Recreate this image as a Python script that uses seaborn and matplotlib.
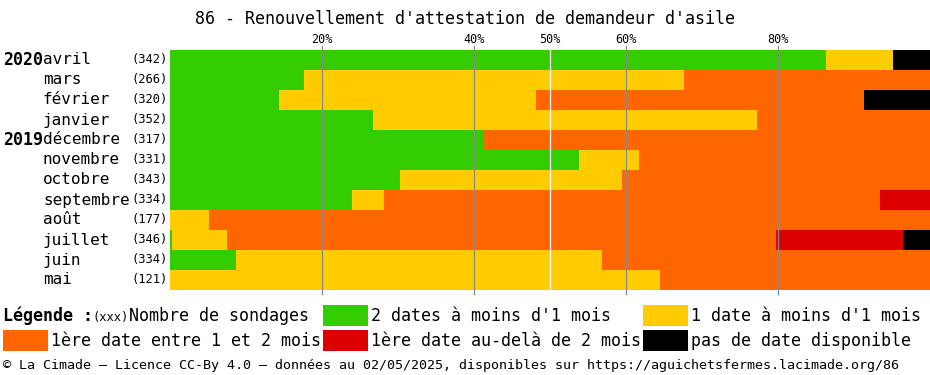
import numpy as np
import pandas as pd
import matplotlib
matplotlib.use('Agg')
import matplotlib.pyplot as plt
import matplotlib.transforms as mtransforms
from matplotlib.patches import Rectangle
import seaborn as sns

plt.rcParams['font.family'] = ['DejaVu Sans Mono', 'DejaVu Sans']

# data (percent of surveys per month)
months = ['avril', 'mars', 'février', 'janvier', 'décembre', 'novembre',
          'octobre', 'septembre', 'août', 'juillet', 'juin', 'mai']
years = ['2020', '', '', '', '2019', '', '', '', '', '', '', '']
counts = [342, 266, 320, 352, 317, 331, 343, 334, 177, 346, 334, 121]
green = [86.3, 17.6, 14.3, 26.7, 41.3, 53.8, 30.3, 23.9, 0, 0.3, 8.7, 0]
yellow = [8.8, 50.0, 33.9, 50.5, 0, 7.9, 29.2, 4.3, 5.1, 7.2, 48.1, 64.5]
orange = [0, 32.4, 43.1, 22.8, 58.7, 38.3, 40.5, 65.2, 94.9, 72.2, 43.2, 35.5]
red = [0, 0, 0, 0, 0, 0, 0, 6.6, 0, 16.7, 0, 0]
black = [4.9, 0, 8.7, 0, 0, 0, 0, 0, 0, 3.6, 0, 0]

cat_labels = ['2 dates à moins d\'1 mois', '1 date à moins d\'1 mois',
              '1ère date entre 1 et 2 mois', '1ère date au-delà de 2 mois',
              'pas de date disponible']
cat_colors = ['#33CC00', '#FFCC00', '#FF6600', '#DD0000', '#000000']

df = pd.DataFrame({'mois': months, 'green': green, 'yellow': yellow,
                   'orange': orange, 'red': red, 'black': black})
cols = ['green', 'yellow', 'orange', 'red', 'black']
cum = df[cols].cumsum(axis=1)

W, H = 930, 375
fig = plt.figure(figsize=(W / 100, H / 100), dpi=100)
ax = fig.add_axes([170 / W, 1 - 290 / H, 760 / W, 240 / H])

# stacked bars: draw cumulative totals from the last category to the first
for c, col in reversed(list(zip(cat_colors, cols))):
    sns.barplot(x=cum[col], y=df['mois'], orient='h', color=c,
                width=1.0, saturation=1, linewidth=0, ax=ax)

ax.set_xlim(0, 100)
ax.set_ylim(11.5, -0.5)
for s in ax.spines.values():
    s.set_visible(False)
ax.set_xlabel('')
ax.set_ylabel('')
ax.set_yticks([])
ax.set_xticks([20, 40, 50, 60, 80])
ax.set_xticklabels([f'{t}%' for t in [20, 40, 50, 60, 80]])
ax.xaxis.set_ticks_position('top')
ax.tick_params(axis='x', length=0, pad=3, labelsize=8.5)

for t in [20, 40, 60, 80]:
    ax.axvline(t, color='#888888', lw=0.9, ymin=-0.015, ymax=1.015,
               clip_on=False, zorder=5)
ax.axvline(50, color='white', lw=0.9, zorder=5)

# row labels
tr = mtransforms.blended_transform_factory(fig.transFigure, ax.transData)
for i, (yr, m, n) in enumerate(zip(years, months, counts)):
    if yr:
        fig.text(3 / W, i, yr, transform=tr, va='center', fontsize=12,
                 fontweight='bold')
    fig.text(43 / W, i, m, transform=tr, va='center', fontsize=11.5)
    fig.text(131 / W, i, f'({n})', transform=tr, va='center', fontsize=8.7)

fig.text(0.5, 1 - 19 / H, "86 - Renouvellement d'attestation de demandeur d'asile",
         ha='center', va='center', fontsize=12)


def fx(px):
    return px / W


def fy(py):
    return 1 - py / H


# legend
fig.text(fx(3), fy(316), 'Légende :', va='center', fontsize=12, fontweight='bold')
fig.text(fx(92), fy(317), '(xxx)', va='center', fontsize=8.7)
fig.text(fx(129), fy(316), 'Nombre de sondages', va='center', fontsize=12)
slots = [(323, 305), (643, 305), (3, 330), (323, 330), (643, 330)]
for (px, py), c, lab in zip(slots, cat_colors, cat_labels):
    fig.patches.append(Rectangle((fx(px), fy(py + 21)), 45 / W, 21 / H,
                                 transform=fig.transFigure, color=c, lw=0))
    fig.text(fx(px + 48), fy(py + 11), lab, va='center', fontsize=12)

fig.text(fx(3), fy(366),
         '© La Cimade — Licence CC-By 4.0 — données au 02/05/2025, '
         'disponibles sur https://aguichetsfermes.lacimade.org/86',
         va='center', fontsize=9.6)

fig.savefig('out.png', dpi=100)
